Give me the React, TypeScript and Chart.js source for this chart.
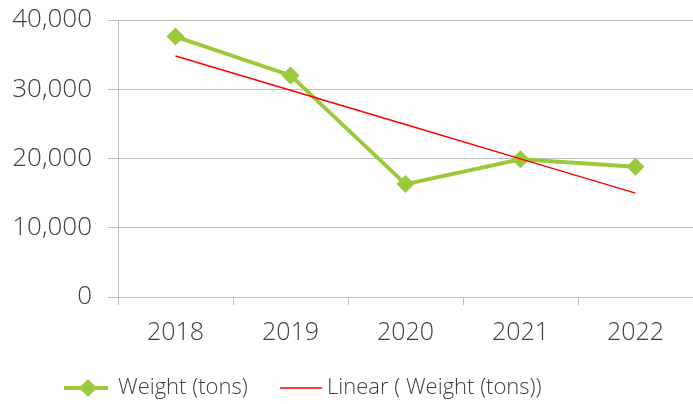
import React, { useEffect, useRef } from "react";
import { Chart, registerables } from "chart.js";

Chart.register(...registerables);

const categories = ["2018", "2019", "2020", "2021", "2022"];
const weightTons = [37600, 32000, 16300, 19900, 18800];
const linearTrend = [34800, 29850, 24900, 19950, 15000];
const yTicks = [0, 10000, 20000, 30000, 40000];
const seriesNames = ["Weight (tons)", "Linear ( Weight (tons))"];

const GREEN = "rgb(154,202,60)";
const RED = "rgb(255,0,0)";
const GRID = "#bfbfbf";
const TEXT = "#404040";
const FONT = "'Open Sans', sans-serif";

const legendPlugin = {
  id: "customLegend",
  afterDraw(chart: any) {
    const ctx = chart.ctx;
    const y = 388;
    ctx.save();
    ctx.font = `300 22px ${FONT}`;
    ctx.fillStyle = TEXT;
    ctx.textBaseline = "middle";
    ctx.textAlign = "left";
    ctx.strokeStyle = GREEN;
    ctx.lineWidth = 4;
    ctx.beginPath();
    ctx.moveTo(64, y);
    ctx.lineTo(108, y);
    ctx.stroke();
    ctx.fillStyle = GREEN;
    ctx.beginPath();
    ctx.moveTo(88, y - 9);
    ctx.lineTo(97, y);
    ctx.lineTo(88, y + 9);
    ctx.lineTo(79, y);
    ctx.closePath();
    ctx.fill();
    ctx.fillStyle = TEXT;
    ctx.fillText(chart.data.datasets[0].label, 118, y);
    ctx.strokeStyle = RED;
    ctx.lineWidth = 1.5;
    ctx.beginPath();
    ctx.moveTo(280, y);
    ctx.lineTo(322, y);
    ctx.stroke();
    ctx.fillText(chart.data.datasets[1].label, 327, y);
    ctx.restore();
  },
};

export default function App() {
  const ref = useRef<HTMLCanvasElement | null>(null);
  useEffect(() => {
    document.body.style.margin = "0";
    const chart = new Chart(ref.current as HTMLCanvasElement, {
      type: "line",
      data: {
        labels: categories,
        datasets: [
          {
            label: seriesNames[0],
            data: weightTons,
            borderColor: GREEN,
            backgroundColor: GREEN,
            borderWidth: 4,
            pointStyle: "rectRot",
            pointRadius: 9,
            pointHoverRadius: 9,
            pointBackgroundColor: GREEN,
            pointBorderWidth: 0,
            tension: 0,
            order: 2,
          },
          {
            label: seriesNames[1],
            data: linearTrend,
            borderColor: RED,
            backgroundColor: RED,
            borderWidth: 1.5,
            pointRadius: 0,
            tension: 0,
            order: 1,
          },
        ],
      },
      options: {
        animation: false,
        responsive: false,
        maintainAspectRatio: false,
        layout: { autoPadding: false, padding: { top: 20, right: 0, bottom: 0, left: 0 } },
        plugins: { legend: { display: false }, tooltip: { enabled: false } },
        scales: {
          x: {
            offset: true,
            grid: {
              offset: true,
              drawOnChartArea: false,
              drawTicks: true,
              tickLength: 8,
              color: GRID,
            },
            border: { color: GRID, width: 1 },
            ticks: { color: TEXT, font: { family: FONT, size: 25, weight: "300" }, padding: 13 },
            afterFit(scale: any) {
              scale.height = 107;
              scale.paddingLeft = 0;
              scale.paddingRight = 0;
            },
          },
          y: {
            min: 0,
            max: 40000,
            afterBuildTicks(scale: any) {
              scale.ticks = yTicks.map((v) => ({ value: v }));
            },
            grid: { color: GRID, tickLength: 10, lineWidth: 1 },
            border: { color: GRID, width: 1 },
            ticks: {
              color: TEXT,
              font: { family: FONT, size: 26, weight: "300" },
              padding: 16,
              callback: (v: any) => Number(v).toLocaleString("en-US"),
            },
            afterFit(scale: any) {
              scale.width = 118;
              scale.paddingTop = 0;
              scale.paddingBottom = 0;
            },
          },
        },
      },
      plugins: [legendPlugin],
    });
    return () => chart.destroy();
  }, []);
  return (
    <div style={{ width: 693, height: 404 }}>
      <canvas ref={ref} width={693} height={404} style={{ display: "block", width: 693, height: 404 }} />
    </div>
  );
}
